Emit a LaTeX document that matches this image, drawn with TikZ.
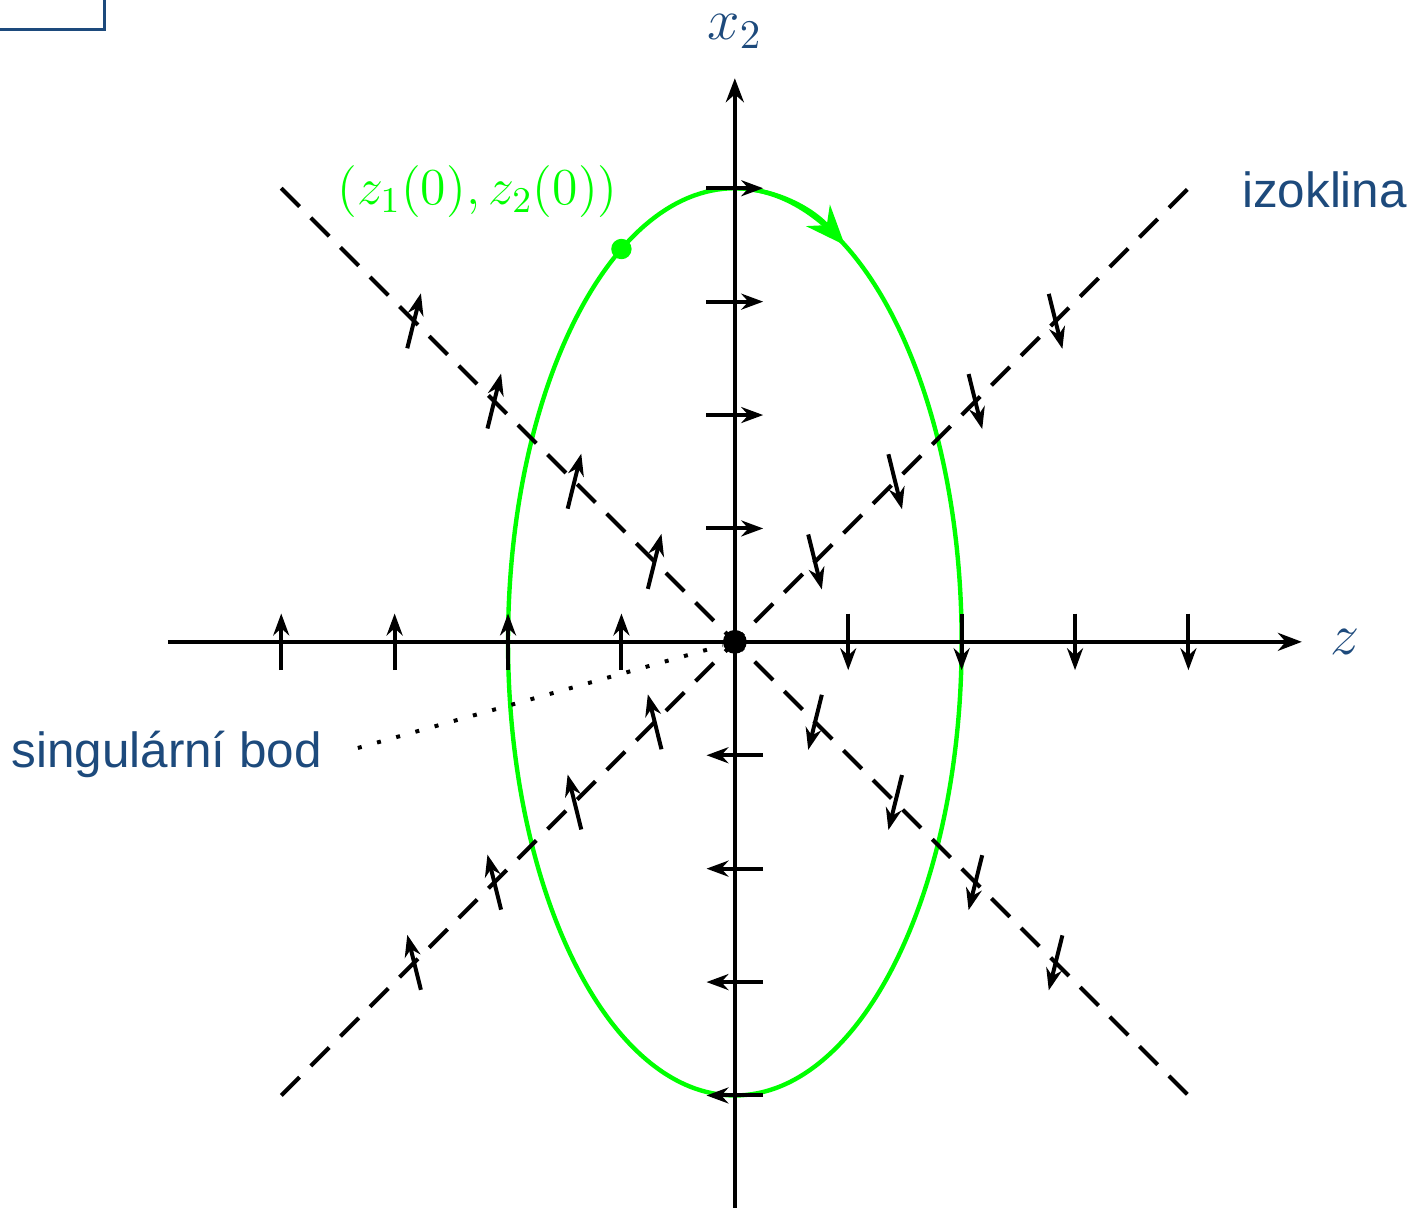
\RequirePackage{fix-cm}
\documentclass[tikz,border=0pt]{standalone}
\usepackage{fontspec}
\setsansfont{Liberation Sans}
\usetikzlibrary{arrows.meta,calc}
\definecolor{labelblue}{HTML}{1D4A7C}
\tikzset{
  axis/.style={line width=1pt,-{Stealth[length=6pt,width=4.5pt]}},
  vec/.style={line width=1pt,-{Stealth[length=5.5pt,width=4pt]}},
  izo/.style={line width=1pt,dash pattern=on 6.5pt off 4pt},
  traj/.style={draw=green,line width=1.1pt},
  lbl/.style={text=labelblue,font=\sffamily\fontsize{12.4}{15}\selectfont},
  axlbl/.style={text=labelblue,font=\fontsize{14.6}{17}\selectfont},
}

\begin{document}
\begin{tikzpicture}
  \useasboundingbox (-6.48,-4.99) rectangle (5.98,5.66);
  \draw[labelblue,line width=0.7pt] (-6.48,5.397) -| (-5.556,5.66);
  % trajectory
  \draw[traj] (0,0) ellipse [x radius=2,y radius=4];
  \draw[traj,-{Stealth[length=10pt,width=8pt]}] (0,4) arc[start angle=90,end angle=61,x radius=2,y radius=4];
  % isoclines
  \draw[izo] (-4,4) -- (4,-4);
  \draw[izo] (-4,-4) -- (4,4);
  % axes
  \coordinate (xl) at (-5,0); \coordinate (xr) at (5,0);
  \coordinate (yb) at (0,-5); \coordinate (yt) at (0,4.97);
  \draw[axis] (xl) -- (xr);
  \draw[axis] (yb) -- (yt);
  \node[axlbl] (zlbl) at (5.38,0) {$z$};
  \node[axlbl,inner sep=0pt] (xlbl) at (0,5.38) {$x_2$};
  % field on the axes
  \foreach \i in {1,...,4}{
    \draw[vec] (-\i,-0.25) -- (-\i,0.25);
    \draw[vec] (\i,0.25) -- (\i,-0.25);
    \draw[vec] (-0.25,\i) -- (0.25,\i);
    \draw[vec] (0.25,-\i) -- (-0.25,-\i);
  }
  % field on the isoclines
  \foreach \i in {1,...,4}{
    \pgfmathsetmacro{\d}{0.7071*\i}
    \draw[vec] ({-\d-0.06},{\d-0.24}) -- ++(0.12,0.485);
    \draw[vec] ({\d-0.06},{\d+0.24}) -- ++(0.12,-0.485);
    \draw[vec] ({-\d+0.06},{-\d-0.24}) -- ++(-0.12,0.485);
    \draw[vec] ({\d+0.06},{-\d+0.24}) -- ++(-0.12,-0.485);
  }
  % singular point
  \node[circle,fill=black,inner sep=0pt,minimum size=0.21cm] (O) at (0,0) {};
  \node[lbl] (sing) at (-5.01,-0.99) {singulární bod};
  \draw[loosely dotted,line width=1pt,shorten <=2mm] (sing.east) -- (O);
  \node[lbl] (izo) at (5.2,3.99) {izoklina};
  % initial state
  \node[circle,fill=green,inner sep=0pt,minimum size=0.18cm] (z0) at (120:2 and 4) {};
  \node[text=green,font=\fontsize{13}{16}\selectfont] (z0lbl) at (-2.27,3.97) {$(z_1(0),z_2(0))$};
\end{tikzpicture}
\end{document}
